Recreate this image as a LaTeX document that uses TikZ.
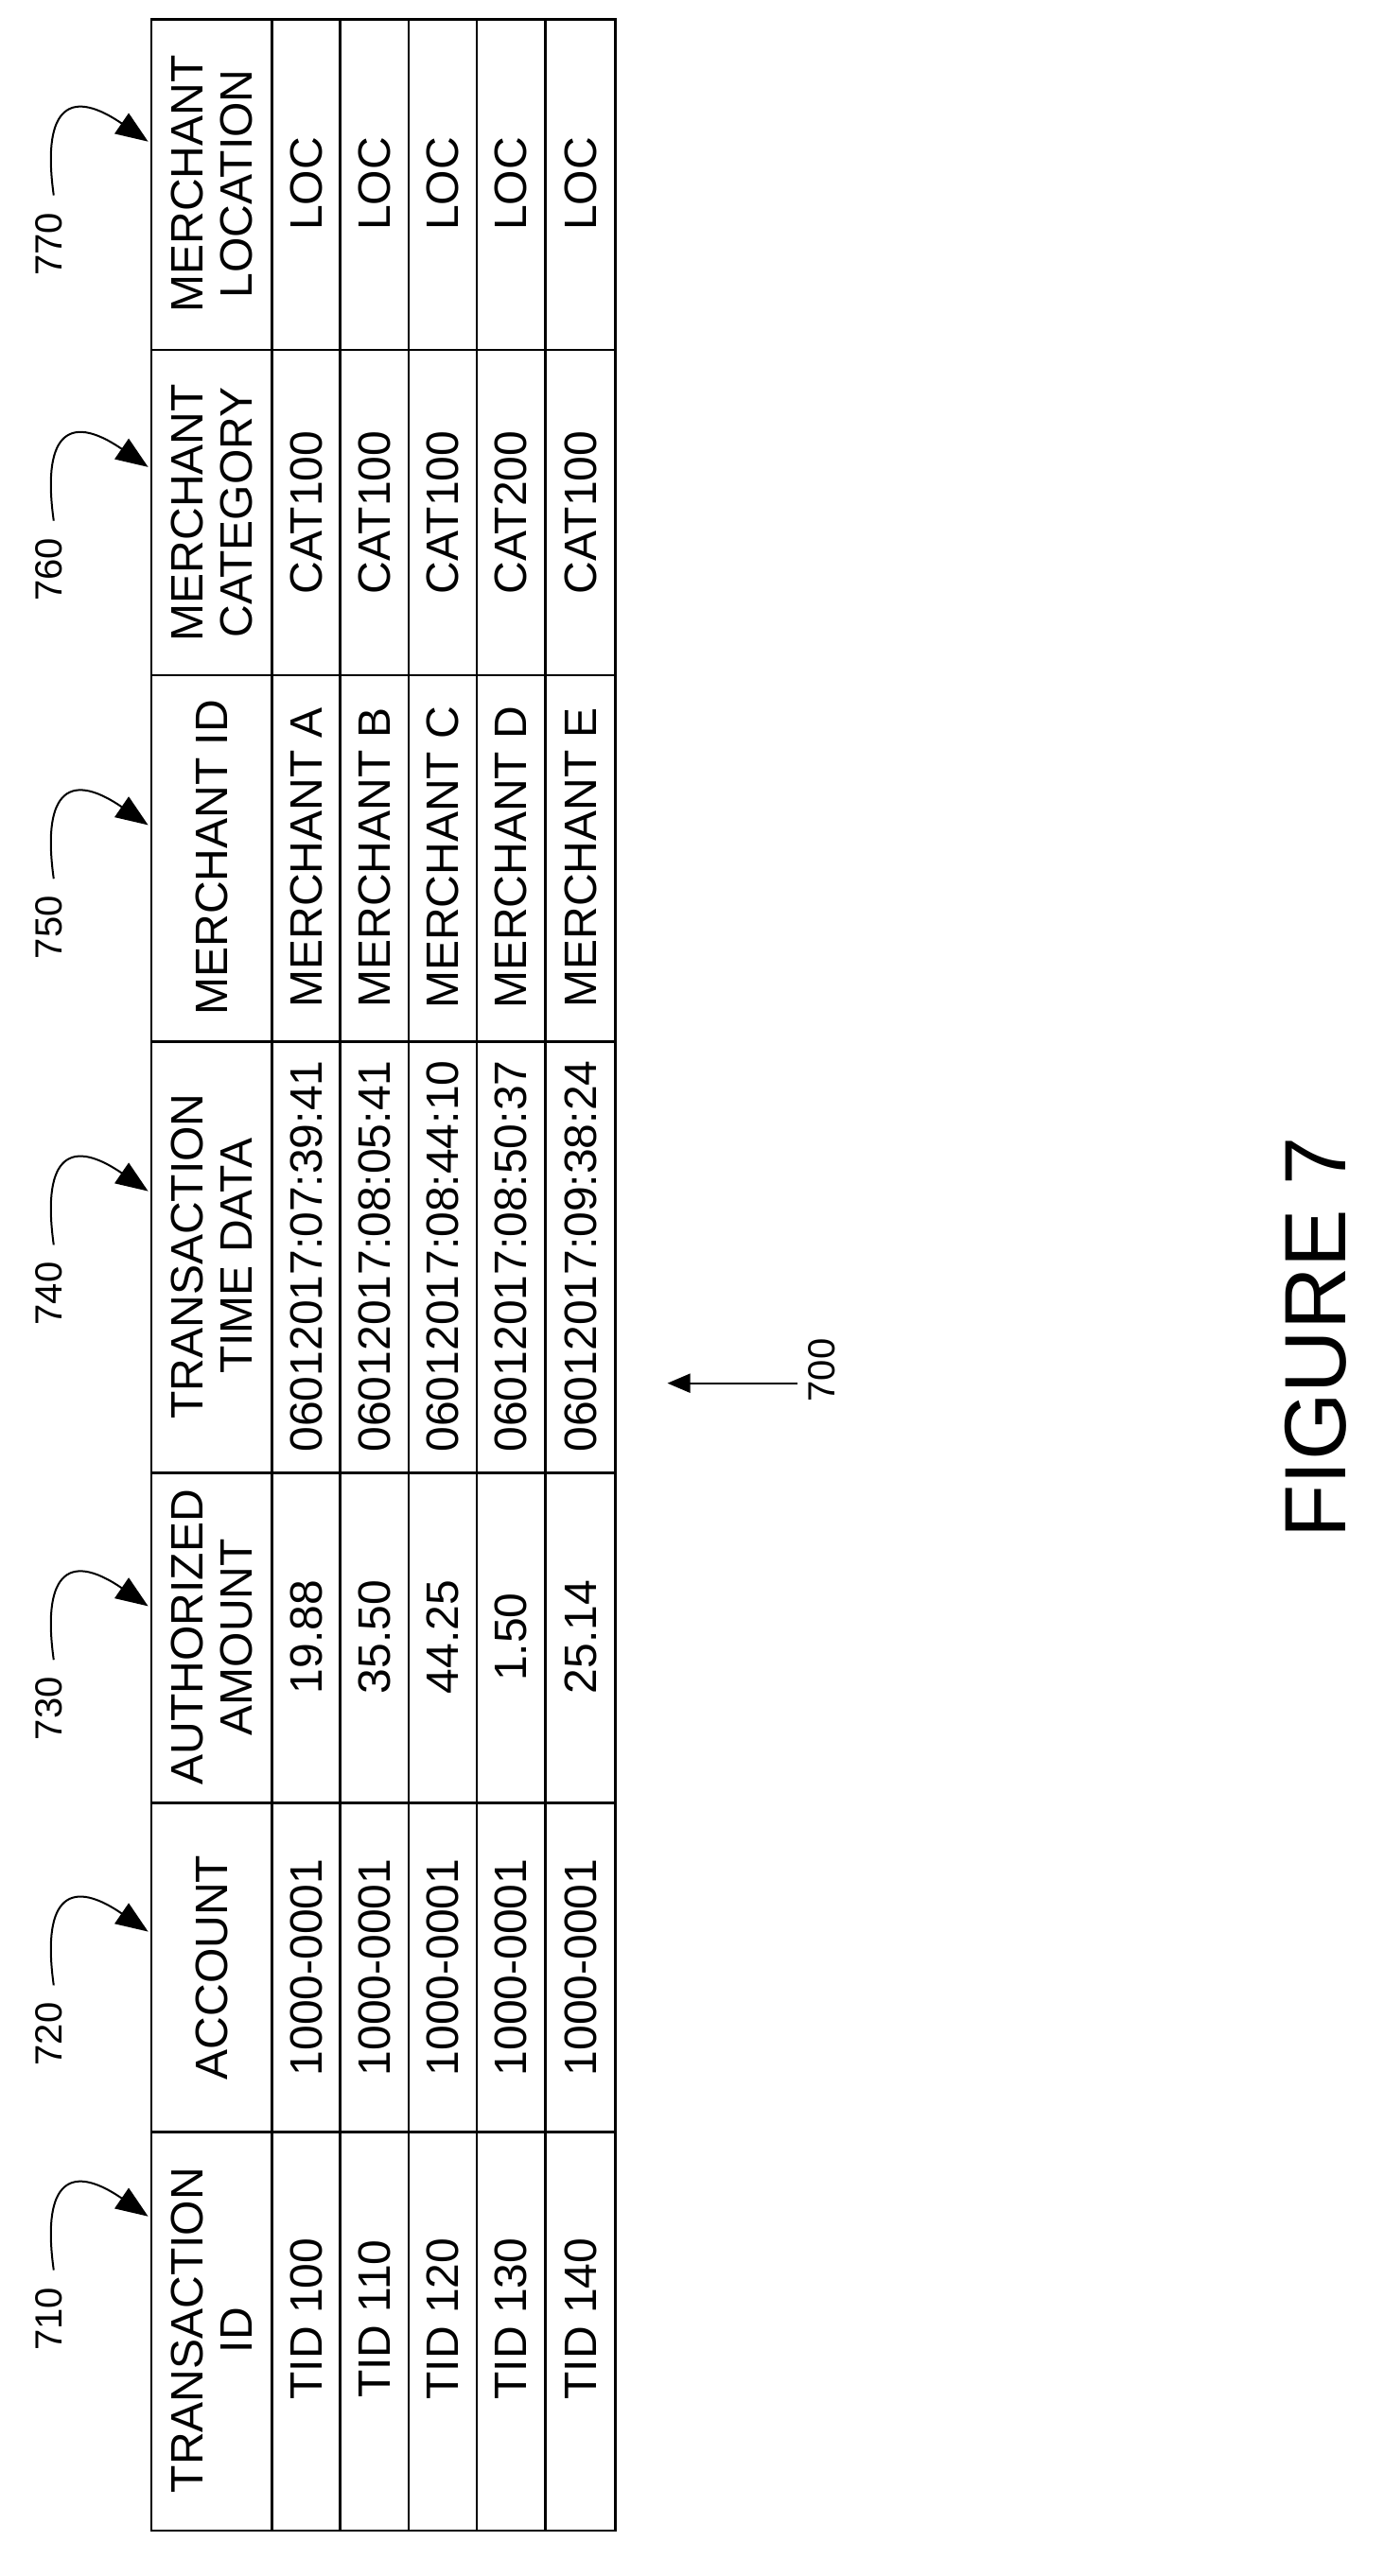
\documentclass[tikz,border=0pt]{standalone}
\usepackage{fontspec}
\setmainfont{Liberation Sans}
\usetikzlibrary{arrows.meta}
\begin{document}
\begin{tikzpicture}[x=1.72pt,y=-1.72pt,
  grid/.style={line width=2.6pt},
  hd/.style={rotate=90,align=center,font=\fontsize{48}{52}\selectfont,inner sep=0pt},
  cell/.style={rotate=90,font=\fontsize{48}{52}\selectfont,inner sep=0pt},
  lbl/.style={rotate=90,font=\fontsize{40}{44}\selectfont,inner sep=0pt},
  callout/.style={line width=2pt,-{Triangle[length=34pt,width=26pt]}}]
\useasboundingbox (0,0) rectangle (850,1583);
% table
\draw[grid] (93,12) rectangle (378,1555);
\foreach \x in {167,209,251,293,335} \draw[grid] (\x,12) -- (\x,1555);
\foreach \y in {215,415,640,905,1108,1310} \draw[grid] (93,\y) -- (378,\y);
% headers
\node[hd] (h7) at (130,113) {MERCHANT\\LOCATION};
\node[hd] (h6) at (130,315) {MERCHANT\\CATEGORY};
\node[hd] (h5) at (130,527) {MERCHANT ID};
\node[hd] (h4) at (130,772) {TRANSACTION\\TIME DATA};
\node[hd] (h3) at (130,1006) {AUTHORIZED\\AMOUNT};
\node[hd] (h2) at (130,1209) {ACCOUNT};
\node[hd] (h1) at (130,1432) {TRANSACTION\\ID};
% data
\foreach \x/\tid/\amt/\tm/\m/\cat in {
 188/100/19.88/06012017:07:39:41/A/CAT100,
 230/110/35.50/06012017:08:05:41/B/CAT100,
 272/120/44.25/06012017:08:44:10/C/CAT100,
 314/130/1.50/06012017:08:50:37/D/CAT200,
 357/140/25.14/06012017:09:38:24/E/CAT100}{
  \node[cell] (t\tid) at (\x,1425) {TID \tid};
  \node[cell] (a\tid) at (\x,1209) {1000-0001};
  \node[cell] (m\tid) at (\x,1006) {\amt};
  \node[cell] (d\tid) at (\x,772) {\tm};
  \node[cell] (i\tid) at (\x,527) {MERCHANT \m};
  \node[cell] (c\tid) at (\x,315) {\cat};
  \node[cell] (l\tid) at (\x,113) {LOC};
}
% callouts
\foreach \n/\yy in {710/1425,720/1250,730/1050,740/795,750/570,760/350,770/150}{
  \node[lbl] (n\n) at (30,\yy) {\n};
  \coordinate (s\n) at (33,\yy-30);
  \coordinate (e\n) at (91,\yy-63);
  \draw[callout] (s\n) .. controls (26,\yy-80) and (40,\yy-98) .. (e\n);
}
% 700
\node[lbl] (n700) at (505,842) {700};
\coordinate (a700s) at (490,850);
\coordinate (a700e) at (410,850);
\draw[line width=2pt,-{Triangle[length=24pt,width=20pt]}] (a700s) -- (a700e);
% figure
\node[rotate=90,font=\fontsize{92}{96}\selectfont,inner sep=0pt] (fig) at (808,822) {FIGURE 7};
\end{tikzpicture}
\end{document}
